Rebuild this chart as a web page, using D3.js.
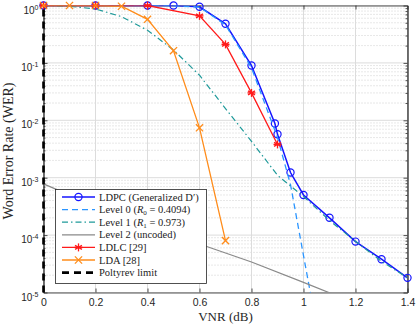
<!DOCTYPE html>
<html><head><meta charset="utf-8">
<script src="https://cdn.jsdelivr.net/npm/d3@7"></script>
<style>body{margin:0;background:#fff}svg{display:block}</style>
</head><body><svg id="c" width="416" height="328"></svg>
<script>
// ---- data ----
const ldpcX = [0,0.2,0.4,0.5,0.6,0.7,0.8,0.89,0.9,0.95,1.0,1.1,1.2,1.3,1.4];
const ldpcY = [1,1,1,1,0.95,0.48,0.09,0.0088,0.0057,0.00123,5.0e-4,2.0e-4,7.7e-5,3.8e-5,1.8e-5];
const level0X = [0,0.2,0.4,0.5,0.6,0.7,0.8,0.9,0.95,1.0,1.05];
const level0Y = [1,1,1,0.99,0.94,0.46,0.082,0.005,7.6e-4,4.4e-5,2.6e-6];
const level1X = [0,0.1,0.2,0.3,0.4,0.5,0.6,0.7,0.8,0.9,1.0,1.1,1.2,1.3,1.4];
const level1Y = [1,0.97,0.87,0.64,0.37,0.168,0.061,0.016,0.0043,0.0011,4.7e-4,1.8e-4,7.8e-5,3.5e-5,1.8e-5];
const level2X = [0,0.2,0.4,0.6,0.8,1.0,1.2];
const level2Y = [7.8e-4,3.2e-4,1.5e-4,7.0e-5,3.4e-5,1.5e-5,6.5e-6];
const ldlcX = [0,0.2,0.4,0.6,0.7,0.8,0.9];
const ldlcY = [1,1,1,0.66,0.21,0.03,0.0038];
const ldaX = [0,0.1,0.2,0.3,0.4,0.5,0.6,0.7];
const ldaY = [1,1,1,0.97,0.575,0.163,0.0074,8e-5];
const poltyrevX = [0,0];
const poltyrevY = [1e-5,1];
const xTicks = [0,0.2,0.4,0.6,0.8,1,1.2,1.4];
const xTickLabels = ["0","0.2","0.4","0.6","0.8","1","1.2","1.4"];
const yTicks = [1e-5,1e-4,1e-3,1e-2,1e-1,1];
const yTickExps = ["-5","-4","-3","-2","-1","0"];
const legendLabels = ["LDPC (Generalized D\u2032)","Level 0","Level 1","Level 2 (uncoded)","LDLC [29]","LDA [28]","Poltyrev limit"];

// ---- layout ----
const L = 43.5, R = 407.5, T = 5.5, B = 292.5;
const svg = d3.select("#c");
const x = d3.scaleLinear().domain([0,1.4]).range([L,R]);
const y = d3.scaleLog().domain([1e-5,1]).range([B,T]);
const axisColor = "#262626";

svg.append("defs").append("clipPath").attr("id","clip")
  .append("rect").attr("x",L-3).attr("y",T).attr("width",R-L+3).attr("height",B-T);

// minor values
const minorY = [];
for (let e=-5;e<0;e++) for (let m=2;m<=9;m++) minorY.push(m*Math.pow(10,e));

// grid
const grid = svg.append("g");
grid.selectAll("line.mg").data(minorY).enter().append("line")
  .attr("x1",L).attr("x2",R).attr("y1",d=>y(d)).attr("y2",d=>y(d))
  .attr("stroke","#c4c4c4").attr("stroke-width",0.8).attr("stroke-dasharray","1,2");
grid.selectAll("line.gy").data(yTicks).enter().append("line")
  .attr("x1",L).attr("x2",R).attr("y1",d=>y(d)).attr("y2",d=>y(d))
  .attr("stroke","#dcdcdc").attr("stroke-width",1);
grid.selectAll("line.gx").data(xTicks).enter().append("line")
  .attr("y1",T).attr("y2",B).attr("x1",d=>x(d)).attr("x2",d=>x(d))
  .attr("stroke","#dcdcdc").attr("stroke-width",1);

// axes
function styleAxis(g){ g.selectAll("path,line").attr("stroke",axisColor).attr("stroke-width",0.8); }
const xb = svg.append("g").attr("transform",`translate(0,${B})`)
  .call(d3.axisBottom(x).tickValues(xTicks).tickSizeInner(-4).tickSizeOuter(0).tickPadding(6)
    .tickFormat((d,i)=>xTickLabels[i]));
styleAxis(xb);
xb.selectAll("text").attr("font-family","'Liberation Sans',Arial,sans-serif").attr("font-size","10.5px").attr("fill",axisColor);
const xt = svg.append("g").attr("transform",`translate(0,${T})`)
  .call(d3.axisTop(x).tickValues(xTicks).tickSizeInner(-4).tickSizeOuter(0).tickFormat(""));
styleAxis(xt);
const yl = svg.append("g").attr("transform",`translate(${L},0)`)
  .call(d3.axisLeft(y).tickValues(yTicks).tickSizeInner(-4).tickSizeOuter(0).tickPadding(6).tickFormat(""));
styleAxis(yl);
yl.selectAll(".tick text").each(function(d,i){
  const t = d3.select(this).attr("font-family","'Liberation Sans',Arial,sans-serif")
    .attr("font-size","10px").attr("fill",axisColor).attr("dy","0.75em").attr("x",-5);
  t.append("tspan").text("10");
  t.append("tspan").attr("dy","-0.55em").attr("font-size","7px").text(yTickExps[i]);
});
const ylm = svg.append("g").attr("transform",`translate(${L},0)`)
  .call(d3.axisLeft(y).tickValues(minorY).tickSizeInner(-2).tickSizeOuter(0).tickFormat(""));
styleAxis(ylm);
const yr = svg.append("g").attr("transform",`translate(${R},0)`)
  .call(d3.axisRight(y).tickValues(yTicks).tickSizeInner(-4).tickSizeOuter(0).tickFormat(""));
styleAxis(yr);
const yrm = svg.append("g").attr("transform",`translate(${R},0)`)
  .call(d3.axisRight(y).tickValues(minorY).tickSizeInner(-2).tickSizeOuter(0).tickFormat(""));
styleAxis(yrm);

// axis labels
svg.append("text").attr("x",(L+R)/2).attr("y",321).attr("text-anchor","middle")
  .attr("font-family","'Liberation Serif','Times New Roman',serif").attr("font-size","13px").attr("fill",axisColor)
  .text("VNR (dB)");
svg.append("text").attr("transform",`translate(12.5,${(T+B)/2+2}) rotate(-90)`).attr("text-anchor","middle")
  .attr("font-family","'Liberation Serif','Times New Roman',serif").attr("font-size","14px").attr("fill",axisColor)
  .text("Word Error Rate (WER)");

// series
const series = [
  {xs:ldpcX, ys:ldpcY, color:"#1515ff", w:1.5, dash:null, marker:"o"},
  {xs:level0X, ys:level0Y, color:"#2b95ff", w:1.3, dash:"6,4", marker:null},
  {xs:level1X, ys:level1Y, color:"#1f9a9a", w:1.2, dash:"6,3,1.5,3", marker:null},
  {xs:level2X, ys:level2Y, color:"#8a8a8a", w:1.2, dash:null, marker:null},
  {xs:ldlcX, ys:ldlcY, color:"#ff1a1a", w:1.3, dash:null, marker:"*"},
  {xs:ldaX, ys:ldaY, color:"#ff8c1a", w:1.3, dash:null, marker:"x"},
  {xs:poltyrevX, ys:poltyrevY, color:"#000000", w:2.6, dash:"7,5", marker:null, noclip:true}
];
const line = d3.line().x(d=>x(d[0])).y(d=>y(d[1]));

function drawMarker(g, type, cx, cy, color){
  if (type==="o") {
    g.append("circle").attr("cx",cx).attr("cy",cy).attr("r",3.6)
      .attr("fill","none").attr("stroke",color).attr("stroke-width",1.2);
  } else if (type==="*") {
    const r=4;
    for (let k=0;k<3;k++){
      const a = Math.PI/2 + k*Math.PI/3;
      g.append("line").attr("x1",cx-r*Math.cos(a)).attr("y1",cy-r*Math.sin(a))
        .attr("x2",cx+r*Math.cos(a)).attr("y2",cy+r*Math.sin(a))
        .attr("stroke",color).attr("stroke-width",1.3);
    }
    g.append("line").attr("x1",cx-r).attr("y1",cy).attr("x2",cx+r).attr("y2",cy)
      .attr("stroke",color).attr("stroke-width",1.3);
  } else if (type==="x") {
    const r=3.6;
    g.append("line").attr("x1",cx-r).attr("y1",cy-r).attr("x2",cx+r).attr("y2",cy+r).attr("stroke",color).attr("stroke-width",1.3);
    g.append("line").attr("x1",cx-r).attr("y1",cy+r).attr("x2",cx+r).attr("y2",cy-r).attr("stroke",color).attr("stroke-width",1.3);
  }
}

series.forEach(s=>{
  const pts = s.xs.map((v,i)=>[v,s.ys[i]]);
  const g = svg.append("g");
  const p = g.append("path").datum(pts).attr("d",line).attr("fill","none")
    .attr("stroke",s.color).attr("stroke-width",s.w)
    .attr("stroke-dasharray",s.dash);
  if (!s.noclip) p.attr("clip-path","url(#clip)");
  if (s.marker) pts.forEach(q=>drawMarker(g,s.marker,x(q[0]),y(q[1]),s.color));
});

// legend
const lg = svg.append("g");
const lx0=55.5, ly0=189.5, lw=151, lh=94, rowH=12.6;
lg.append("rect").attr("x",lx0).attr("y",ly0).attr("width",lw).attr("height",lh)
  .attr("fill","#fff").attr("stroke",axisColor).attr("stroke-width",0.8);
series.forEach((s,i)=>{
  const cy = ly0 + 7.5 + i*rowH;
  lg.append("line").attr("x1",62).attr("x2",95).attr("y1",cy).attr("y2",cy)
    .attr("stroke",s.color).attr("stroke-width",s.w).attr("stroke-dasharray",s.dash);
  if (s.marker) drawMarker(lg,s.marker,78.5,cy,s.color);
  const t = lg.append("text").attr("x",99).attr("y",cy+3.6)
    .attr("font-family","'Liberation Serif','Times New Roman',serif").attr("font-size","10.5px").attr("fill","#222");
  if (i===1 || i===2) {
    t.append("tspan").text(legendLabels[i]+" (");
    t.append("tspan").attr("font-style","italic").text("R");
    t.append("tspan").attr("font-size","7px").attr("dy","2").text(i===1?"0":"1");
    t.append("tspan").attr("dy","-2").text(i===1?" = 0.4094)":" = 0.973)");
  } else {
    t.text(legendLabels[i]);
  }
});
</script></body></html>
